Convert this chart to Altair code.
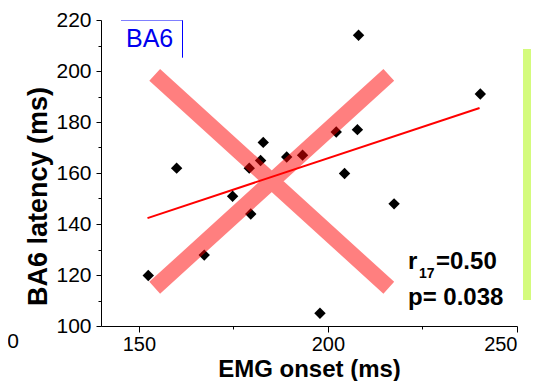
import altair as alt
import pandas as pd

# ---- data ----
emg_onset = [152.5, 160.0, 167.3, 174.8, 179.6, 179.2, 182.2, 182.9, 189.1,
             193.3, 197.9, 202.2, 204.4, 208.1, 207.8, 217.5, 240.3]
ba6_latency = [119.8, 161.9, 127.8, 150.9, 143.9, 161.9, 164.9, 172.0, 166.3,
               167.0, 105.0, 176.1, 159.8, 214.0, 177.0, 147.9, 191.0]

fit_x = [152.3, 240.1]
fit_y = [142.3, 185.5]

cross_x = [154.2, 216.1, None, 154.2, 216.1]
cross_y = [198.5, 115.0, None, 115.0, 198.5]

x_ticks = [150, 175, 200, 225, 250]
y_ticks = [100, 110, 120, 130, 140, 150, 160, 170, 180, 190, 200, 210, 220]

panel_label = "BA6"
stat_r = "r"
stat_df = "17"
stat_rval = "=0.50"
stat_p = "p= 0.038"
stray = "0"

FONT = "Liberation Sans"
W, H = 416, 306

pts_df = pd.DataFrame({"emg": emg_onset, "ba6": ba6_latency})
fit_df = pd.DataFrame({"emg": fit_x, "ba6": fit_y})
cross_df = pd.DataFrame({"emg": cross_x, "ba6": cross_y, "i": list(range(len(cross_x)))})
one = pd.DataFrame({"k": [0]})

xscale = alt.Scale(domain=[140, 250], nice=False, zero=False)
yscale = alt.Scale(domain=[100, 220], nice=False, zero=False)

xaxis = alt.Axis(
    values=x_ticks, title="EMG onset (ms)", grid=False,
    labelExpr="datum.value % 50 === 0 ? datum.label : ''",
    tickSize={"condition": {"test": "datum.value % 50 === 0", "value": 6}, "value": 3},
    labelPadding=2, titleY=50.5, titleBaseline="alphabetic",
    labelFontSize=20, titleFontSize=24,
)
yaxis = alt.Axis(
    values=y_ticks, title="BA6 latency (ms)", grid=False,
    labelExpr="datum.value % 20 === 0 ? datum.label : ''",
    tickSize={"condition": {"test": "datum.value % 20 === 0", "value": 5}, "value": 3},
    labelPadding=5, titleAngle=270, titleX=-55, titleY=176,
    titleAlign="center", titleBaseline="alphabetic",
    labelFontSize=21, titleFontSize=27,
)

green = alt.Chart(one).mark_rect(color="#d4fb7d").encode(
    x=alt.value(422), x2=alt.value(440), y=alt.value(29), y2=alt.value(280)
)

fit = alt.Chart(fit_df).mark_line(color="red", strokeWidth=2).encode(
    x=alt.X("emg:Q", scale=xscale, axis=xaxis),
    y=alt.Y("ba6:Q", scale=yscale, axis=yaxis),
)

pts = alt.Chart(pts_df).mark_point(
    shape="diamond", filled=True, size=130, color="black", opacity=1
).encode(
    x=alt.X("emg:Q", scale=xscale, axis=xaxis),
    y=alt.Y("ba6:Q", scale=yscale, axis=yaxis),
)

cross = alt.Chart(cross_df).mark_line(
    color="red", strokeOpacity=0.5, strokeWidth=16, strokeCap="butt",
    invalid="break-paths-show-domains",
).encode(
    x=alt.X("emg:Q", scale=xscale, axis=xaxis),
    y=alt.Y("ba6:Q", scale=yscale, axis=yaxis),
    order="i:Q",
)

box_top = alt.Chart(one).mark_rule(color="blue", strokeWidth=1, opacity=0.5).encode(
    x=alt.value(20), x2=alt.value(82), y=alt.value(0.5)
)
box_right = alt.Chart(one).mark_rule(color="blue", strokeWidth=1).encode(
    x=alt.value(81.5), y=alt.value(0.5), y2=alt.value(37.7)
)

def txt(s, x, y, size, bold=True, color="black", align="left"):
    return alt.Chart(one).mark_text(
        text=s, font=FONT, fontSize=size, fontWeight="bold" if bold else "normal",
        color=color, align=align, baseline="alphabetic",
    ).encode(x=alt.value(x), y=alt.value(y))

label = txt(panel_label, 25, 27.3, 25, bold=False, color="#0000ee")
t_r = txt(stat_r, 307, 249, 24)
t_df = txt(stat_df, 318, 258, 14)
t_rv = txt(stat_rval, 335, 249, 24)
t_p = txt(stat_p, 307, 285, 24)
t_stray = txt(stray, -82, 328, 21, bold=False, align="right")

chart = alt.layer(
    green, fit, pts, cross, box_top, box_right, label, t_r, t_df, t_rv, t_p, t_stray
).properties(
    width=W, height=H,
    autosize=alt.AutoSizeParams(type="none"),
    padding={"left": 93, "top": 12, "right": 14, "bottom": 55},
).configure_view(stroke=None).configure_axis(
    domainColor="black", tickColor="black", labelColor="black", titleColor="black",
    labelFont=FONT, titleFont=FONT, titleFontWeight="bold", domainWidth=1, tickWidth=1,
)

chart.save("out.html", embed_options={"renderer": "svg", "actions": False})
